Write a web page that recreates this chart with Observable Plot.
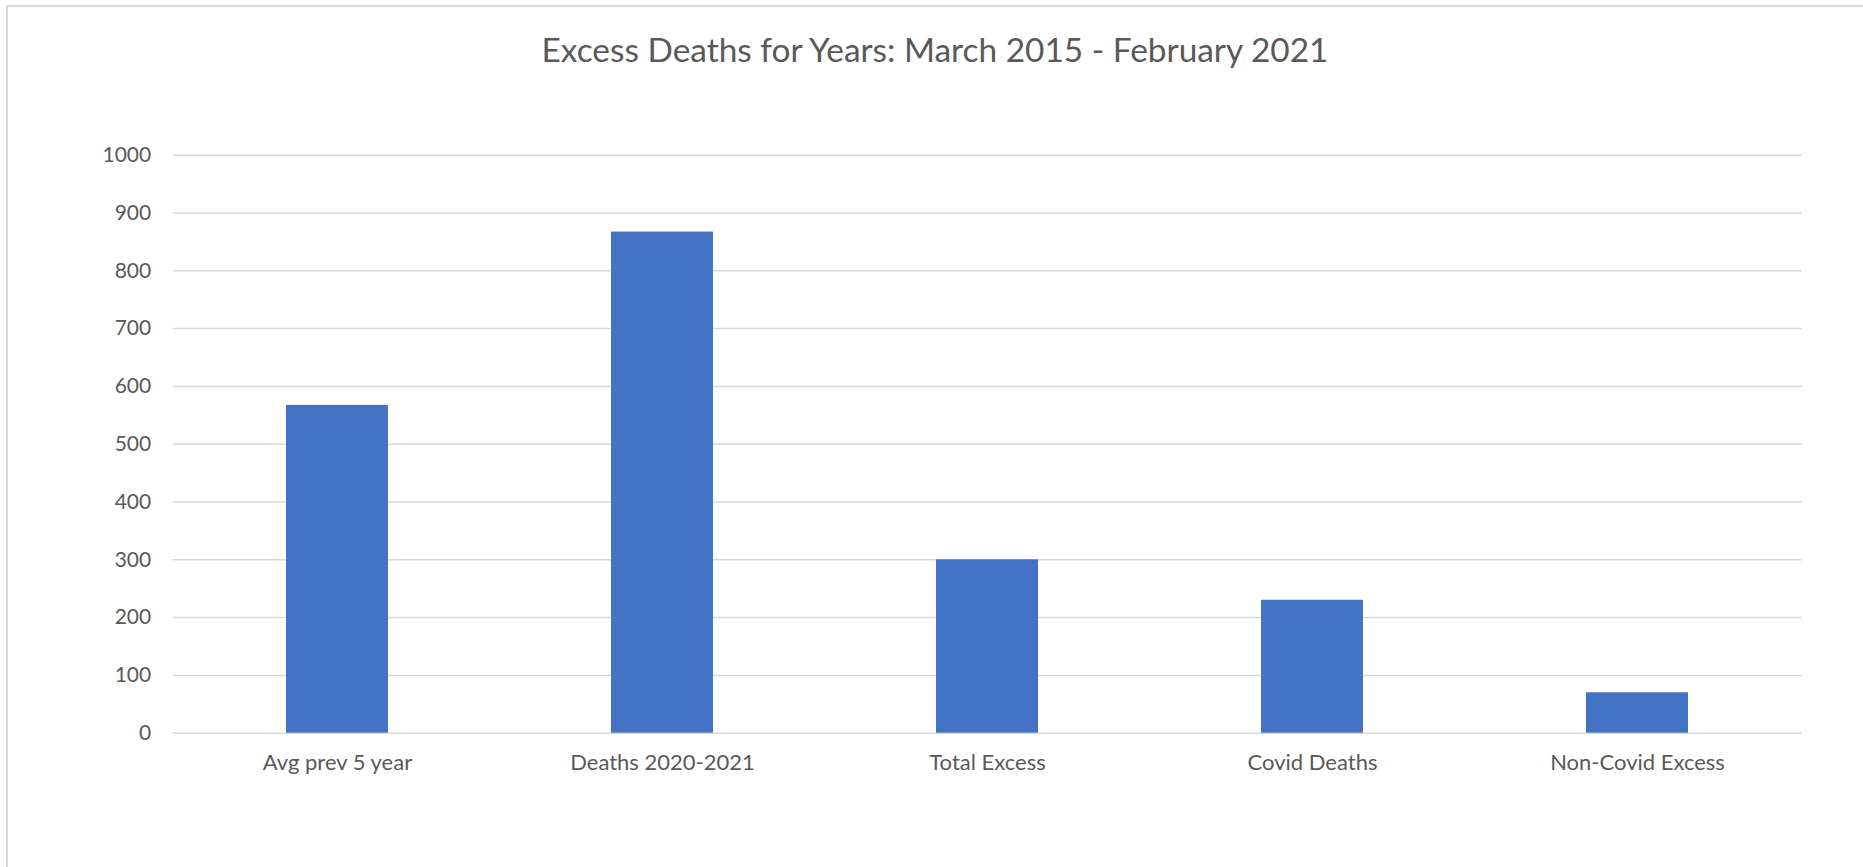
<!DOCTYPE html>
<html>
<head>
<meta charset="utf-8">
<script src="https://cdn.jsdelivr.net/npm/d3@7"></script>
<script src="https://cdn.jsdelivr.net/npm/@observablehq/plot@0.6"></script>
<style>
  html, body { margin: 0; padding: 0; background: #fff; overflow: hidden; }
  body { width: 1863px; height: 867px; position: relative; font-family: Lato, "Open Sans", sans-serif; }
  #frameTop { position: absolute; left: 6px; top: 5px; width: 1857px; height: 2px; background: #d9d9d9; }
  #frameLeft { position: absolute; left: 6px; top: 5px; width: 2px; height: 862px; background: #d9d9d9; }
  #title { position: absolute; white-space: nowrap; color: #595959; font-family: Lato, sans-serif; transform: translateX(-50%); }
  #chart { position: absolute; left: 0; top: 100px; }
</style>
</head>
<body>
<div id="frameTop"></div>
<div id="frameLeft"></div>
<div id="title"></div>
<div id="chart"></div>
<script>
const titleText = "Excess Deaths for Years: March 2015 - February 2021";
const categories = ["Avg prev 5 year", "Deaths 2020-2021", "Total Excess", "Covid Deaths", "Non-Covid Excess"];
const values = [567, 867, 300, 230, 70];
const yTicks = [0, 100, 200, 300, 400, 500, 600, 700, 800, 900, 1000];

const data = categories.map((c, i) => ({category: c, value: values[i]}));

// Title: fit width to reference, baseline placement
(function () {
  const el = document.getElementById("title");
  el.textContent = titleText;
  const ctx = document.createElement("canvas").getContext("2d");
  ctx.font = "100px Lato";
  const m = ctx.measureText(titleText);
  const F = 100 * 790 / m.width;
  const asc = (m.fontBoundingBoxAscent || 98.7) * F / 100;
  const desc = (m.fontBoundingBoxDescent || 21.3) * F / 100;
  el.style.fontSize = F + "px";
  el.style.lineHeight = (asc + desc) + "px";
  el.style.left = "935px";
  el.style.top = (61.7 - asc) + "px";
})();

const chart = Plot.plot({
  width: 1863,
  height: 767,
  marginTop: 54.7,
  marginBottom: 134.3,
  marginLeft: 172.7,
  marginRight: 61.3,
  style: {fontFamily: "Lato, sans-serif", fontSize: "21px", color: "#595959", background: "transparent"},
  x: {domain: categories, paddingInner: 0.685, paddingOuter: 0.3427, label: null, tickSize: 0, tickPadding: 21},
  y: {domain: [0, 1000], ticks: yTicks, tickFormat: d => String(d), label: null, tickSize: 0, tickPadding: 22},
  marks: [
    Plot.ruleY(yTicks, {stroke: "#d9d9d9", strokeWidth: 1.5}),
    Plot.barY(data, {x: "category", y: "value", fill: "#4472C4"})
  ]
});
chart.querySelectorAll("[aria-label='x-axis tick label'] text, g[aria-label='x-axis'] text").forEach(t => t.setAttribute("font-size", "22"));
document.getElementById("chart").appendChild(chart);
</script>
</body>
</html>
